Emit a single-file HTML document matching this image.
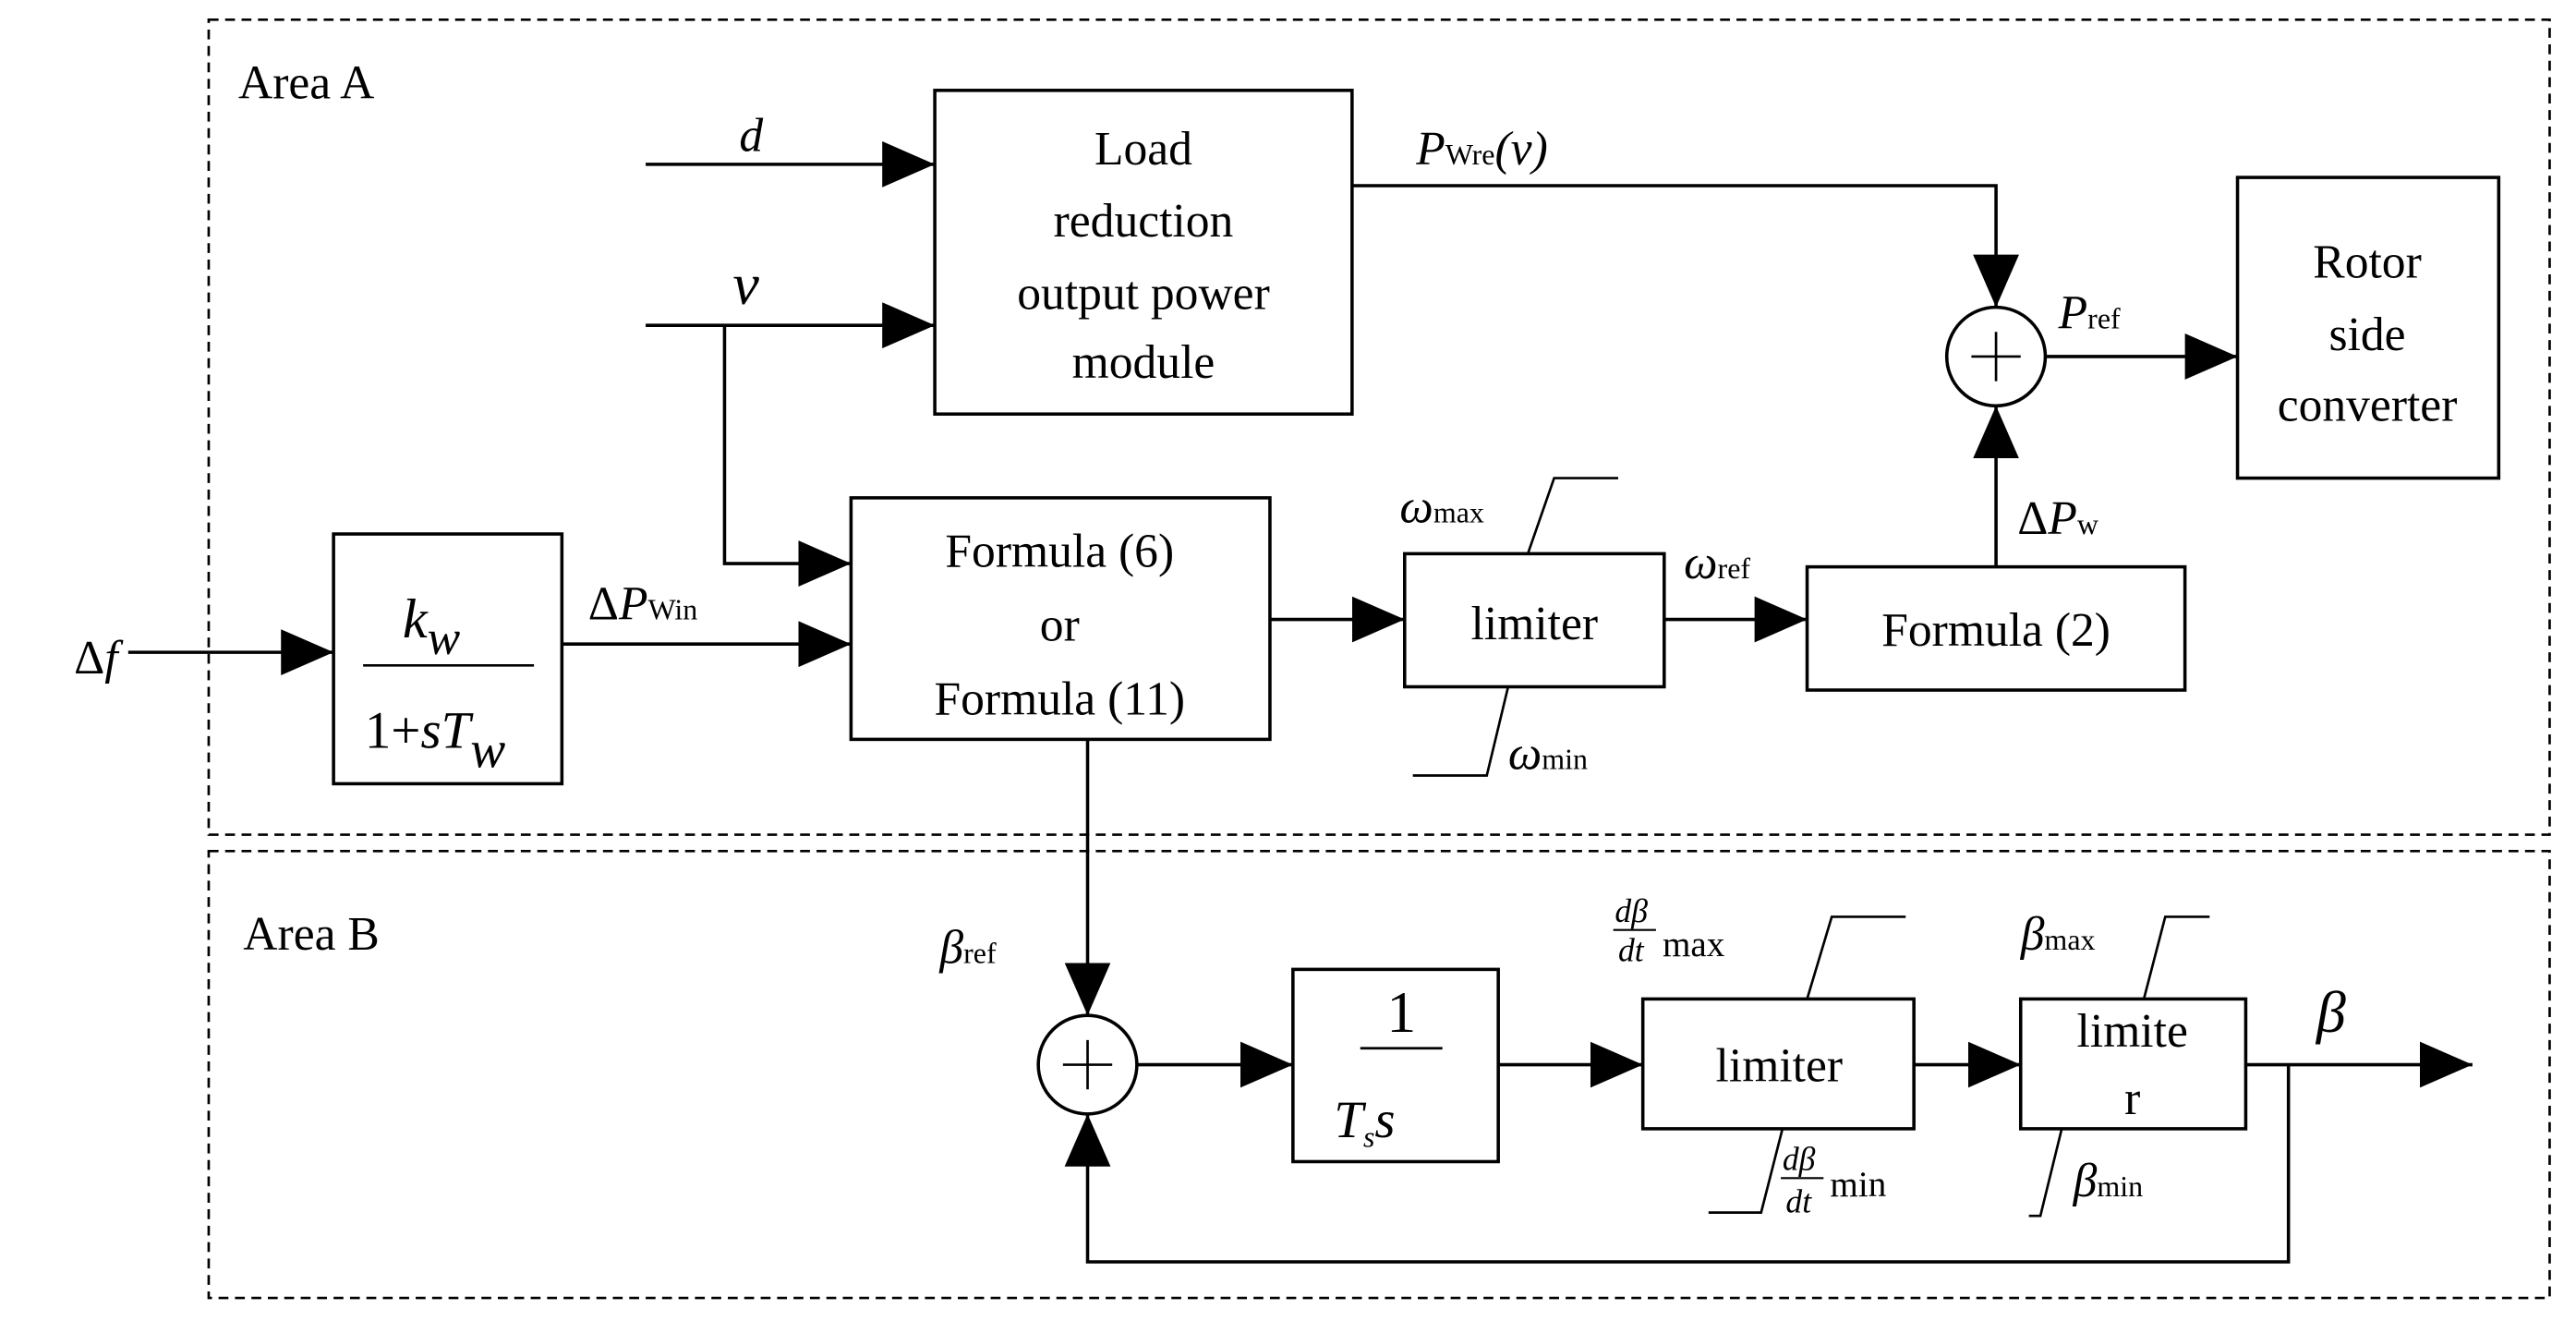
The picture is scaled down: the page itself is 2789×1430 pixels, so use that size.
<!DOCTYPE html>
<html><head><meta charset="utf-8"><style>
html,body{margin:0;padding:0;background:#fff;}
svg{display:block}
text{font-family:"Liberation Serif",serif;fill:#000}
</style></head><body>
<svg width="2789" height="1430" viewBox="0 0 1568 804" xmlns="http://www.w3.org/2000/svg">
<defs>
<marker id="a" viewBox="0 0 32 28" refX="32" refY="14" markerWidth="32" markerHeight="28" markerUnits="userSpaceOnUse" orient="auto"><polygon points="0,0 32,14 0,28" fill="#000"/></marker>
</defs>
<g fill="none" stroke="#000" stroke-width="1.5">
<rect x="127" y="12" width="1425" height="496" stroke-dasharray="6,4"/>
<rect x="127" y="518" width="1425" height="272" stroke-dasharray="6,4"/>
</g>
<g fill="none" stroke="#000" stroke-width="2">
<rect x="569" y="55" width="254" height="197"/>
<rect x="203" y="325" width="139" height="152"/>
<rect x="518" y="303" width="255" height="147"/>
<rect x="855" y="337" width="158" height="81"/>
<rect x="1100" y="345" width="230" height="75"/>
<rect x="1362" y="108" width="159" height="183"/>
<circle cx="1215" cy="217" r="30"/>
<circle cx="662" cy="648" r="30"/>
<rect x="787" y="590" width="125" height="117"/>
<rect x="1000" y="608" width="165" height="79"/>
<rect x="1230" y="608" width="137" height="79"/>
<path d="M1215,202 V232 M1200,217 H1230 M662,633 V663 M647,648 H677" stroke-width="1.5"/>
<path d="M393,100 H569" marker-end="url(#a)"/>
<path d="M393,198 H569" marker-end="url(#a)"/>
<path d="M441,198 V343 H518" marker-end="url(#a)"/>
<path d="M78,397 H203" marker-end="url(#a)"/>
<path d="M342,392 H518" marker-end="url(#a)"/>
<path d="M773,377 H855" marker-end="url(#a)"/>
<path d="M1013,377 H1100" marker-end="url(#a)"/>
<path d="M1215,345 V247" marker-end="url(#a)"/>
<path d="M823,113 H1215 V187" marker-end="url(#a)"/>
<path d="M1245,217 H1362" marker-end="url(#a)"/>
<path d="M662,450 V618" marker-end="url(#a)"/>
<path d="M692,648 H787" marker-end="url(#a)"/>
<path d="M912,648 H1000" marker-end="url(#a)"/>
<path d="M1165,648 H1230" marker-end="url(#a)"/>
<path d="M1367,648 H1505" marker-end="url(#a)"/>
<path d="M1393,648 V768 H662 V678" marker-end="url(#a)"/>
<path d="M930,337 L946,291 H985 M918,418 L905,472 H860" stroke-width="1.5"/>
<path d="M1100,608 L1115,558 H1160 M1085,687 L1072,738 H1040" stroke-width="1.5"/>
<path d="M1305,608 L1318,558 H1345 M1255,687 L1242,740 H1235" stroke-width="1.5"/>
<path d="M221,405 H325 M828,638 H878" stroke-width="1.5"/>
</g>
<g font-size="29">
<text x="145" y="60">Area A</text>
<text x="148" y="578">Area B</text>
<g text-anchor="middle">
<text x="696" y="100">Load</text>
<text x="696" y="144">reduction</text>
<text x="696" y="188">output power</text>
<text x="696" y="230">module</text>
<text x="645" y="345">Formula (6)</text>
<text x="645" y="390">or</text>
<text x="645" y="435">Formula (11)</text>
<text x="934" y="389">limiter</text>
<text x="1215" y="393">Formula (2)</text>
<text x="1441" y="169">Rotor</text>
<text x="1441" y="213">side</text>
<text x="1441" y="256">converter</text>
<text x="1083" y="658">limiter</text>
<text x="1298" y="637">limite</text>
<text x="1298" y="678">r</text>
<text x="853" y="628" font-size="36">1</text>
</g>
<text x="450" y="92" font-style="italic">d</text>
<text x="446" y="185" font-style="italic" font-size="36">v</text>
<text x="45" y="410">Δ<tspan font-style="italic">f</tspan></text>
<text x="245" y="388" font-style="italic" font-size="34">k<tspan font-size="30" dy="10">w</tspan></text>
<text x="222" y="455" font-size="32">1+<tspan font-style="italic">sT</tspan><tspan font-style="italic" dy="12">w</tspan></text>
<text x="358" y="377">Δ<tspan font-style="italic">P</tspan><tspan font-size="18">Win</tspan></text>
<text x="862" y="100" font-style="italic">P<tspan font-size="18" font-style="normal">Wre</tspan>(v)</text>
<text x="1253" y="200" font-style="italic">P<tspan font-size="18" font-style="normal">ref</tspan></text>
<text x="1228" y="325">Δ<tspan font-style="italic">P</tspan><tspan font-size="18">w</tspan></text>
<text x="852" y="318" font-style="italic">ω<tspan font-size="18" font-style="normal">max</tspan></text>
<text x="1025" y="352" font-style="italic">ω<tspan font-size="18" font-style="normal">ref</tspan></text>
<text x="918" y="468" font-style="italic">ω<tspan font-size="18" font-style="normal">min</tspan></text>
<text x="572" y="586" font-style="italic">β<tspan font-size="18" font-style="normal">ref</tspan></text>
<text x="812" y="692" font-style="italic" font-size="32">T<tspan font-size="18" dy="6">s</tspan><tspan dy="-6">s</tspan></text>
<text x="1410" y="628" font-style="italic" font-size="36">β</text>
<text x="1230" y="578" font-style="italic">β<tspan font-size="18" font-style="normal">max</tspan></text>
<text x="1262" y="728" font-style="italic">β<tspan font-size="18" font-style="normal">min</tspan></text>
<g font-size="20" font-style="italic">
<text x="983" y="561">dβ</text><text x="985" y="585">dt</text>
<text x="1085" y="712">dβ</text><text x="1087" y="738">dt</text>
</g>
<path d="M982,566 H1008 M1084,717 H1110" stroke="#000" stroke-width="1.2"/>
<text x="1012" y="582" font-size="22">max</text>
<text x="1114" y="728" font-size="22">min</text>
</g>
</svg>
</body></html>
